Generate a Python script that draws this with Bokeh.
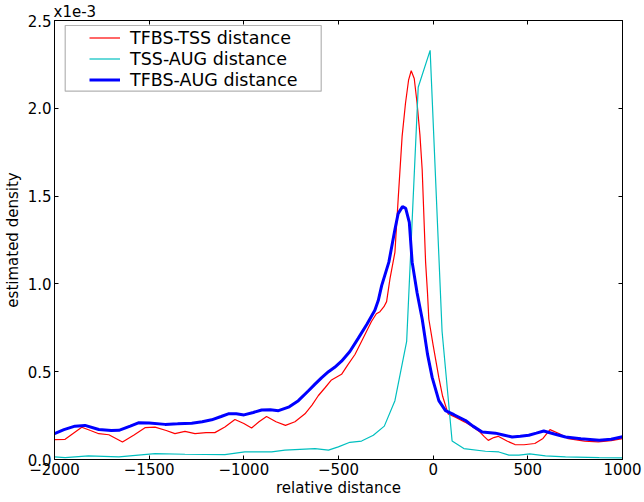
from bokeh.plotting import figure
from bokeh.models import (Legend, LegendItem, BoxAnnotation, FixedTicker,
                          PrintfTickFormatter, LinearAxis, Range1d, CustomLabelingPolicy)
from bokeh.embed import file_html
from bokeh.resources import INLINE

# ---- data (density values in units of 1e-3) ----
tfbs_tss_x = [-2000, -1944, -1900, -1856, -1810, -1766, -1713, -1641, -1580, -1522,
              -1469, -1410, -1364, -1311, -1258, -1200, -1153, -1100, -1047, -1000,
              -959, -920, -880, -830, -780, -730, -677, -640, -607, -570,
              -537, -484, -450, -413, -370, -326, -300, -281, -260, -246,
              -228, -202, -185, -164, -146, -130, -116, -100, -85, -70,
              -58, -40, -30, -23, 0, 30, 50, 79, 120, 168,
              210, 247, 270, 291, 320, 343, 390, 432, 480, 537,
              580, 617, 670, 713, 800, 872, 940, 1000]
tfbs_tss_y = [0.113, 0.115, 0.150, 0.184, 0.165, 0.147, 0.141, 0.100, 0.140, 0.181,
              0.184, 0.165, 0.147, 0.160, 0.147, 0.153, 0.153, 0.185, 0.228, 0.205,
              0.179, 0.215, 0.245, 0.215, 0.194, 0.215, 0.260, 0.310, 0.363, 0.410,
              0.453, 0.485, 0.540, 0.598, 0.690, 0.786, 0.830, 0.842, 0.870, 0.899,
              1.030, 1.180, 1.480, 1.840, 2.030, 2.160, 2.214, 2.170, 2.030, 1.850,
              1.650, 1.124, 0.950, 0.800, 0.650, 0.466, 0.360, 0.260, 0.240, 0.213,
              0.185, 0.156, 0.130, 0.109, 0.125, 0.132, 0.105, 0.085, 0.084, 0.091,
              0.120, 0.170, 0.145, 0.119, 0.105, 0.100, 0.108, 0.119]

tss_aug_x = [-2000, -1944, -1821, -1660, -1469, -1311, -1100, -995, -853, -783, -624,
             -553, -501, -440, -378, -316, -258, -202, -140, -79, -16, 47, 100, 162,
             276, 347, 400, 453, 510, 593, 699, 877, 1000]
tss_aug_y = [0.015, 0.011, 0.021, 0.015, 0.034, 0.030, 0.028, 0.043, 0.043, 0.053, 0.062,
             0.053, 0.072, 0.098, 0.105, 0.138, 0.190, 0.335, 0.673, 2.120, 2.330, 0.730,
             0.105, 0.062, 0.047, 0.043, 0.025, 0.025, 0.032, 0.021, 0.015, 0.011, 0.009]

tfbs_aug_x = [-2000, -1950, -1892, -1839, -1766, -1700, -1660, -1600, -1557, -1500, -1416,
              -1350, -1275, -1220, -1170, -1120, -1082, -1040, -999, -950, -906, -860,
              -817, -760, -712, -660, -624, -590, -553, -520, -484, -440, -396, -350,
              -308, -290, -272, -234, -202, -185, -162, -145, -126, -111, -85, -58, -30, -5,
              30, 65, 110, 171, 210, 259, 329, 370, 417, 460, 505, 545, 584, 640, 699,
              780, 877, 940, 1000]
tfbs_aug_y = [0.147, 0.170, 0.190, 0.194, 0.171, 0.165, 0.166, 0.190, 0.209, 0.208, 0.200,
              0.203, 0.207, 0.215, 0.226, 0.245, 0.260, 0.260, 0.254, 0.268, 0.282, 0.283,
              0.278, 0.300, 0.335, 0.390, 0.429, 0.465, 0.500, 0.525, 0.560, 0.615, 0.690, 0.770,
              0.850, 0.905, 0.990, 1.124, 1.310, 1.400, 1.440, 1.430, 1.350, 1.124, 0.950, 0.800, 0.600, 0.466,
              0.335, 0.278, 0.255, 0.222, 0.190, 0.156, 0.150, 0.140, 0.128, 0.132, 0.138, 0.150,
              0.162, 0.145, 0.128, 0.118, 0.109, 0.115, 0.130]

x_ticks = [-2000, -1500, -1000, -500, 0, 500, 1000]
y_ticks = [0.0, 0.5, 1.0, 1.5, 2.0, 2.5]
labels = ["TFBS-TSS distance", "TSS-AUG distance", "TFBS-AUG distance"]
colors = ["#ff0000", "#00bfbf", "#0000ff"]
offset_text = "x1e-3"

FONT = "DejaVu Sans"
TICK_FS = "15px"

p = figure(frame_width=568, frame_height=439,
           x_range=Range1d(x_ticks[0], x_ticks[-1]), y_range=Range1d(y_ticks[0], y_ticks[-1]),
           output_backend="svg", toolbar_location=None,
           min_border_left=48, min_border_right=20, min_border_top=16, min_border_bottom=40)
p.grid.visible = False
p.outline_line_color = "black"
p.outline_line_width = 1
p.background_fill_color = "white"
p.border_fill_color = "white"

# offset text for the y axis, shown as a left-aligned title
p.title.text = offset_text
p.title.align = "left"
p.title.offset = -1
p.title.standoff = 0
p.title.text_font = FONT
p.title.text_font_size = TICK_FS
p.title.text_font_style = "normal"
p.title.text_color = "black"

r1 = p.line(tfbs_tss_x, tfbs_tss_y, line_color=colors[0], line_width=1.2)
r2 = p.line(tss_aug_x, tss_aug_y, line_color=colors[1], line_width=1.2)
r3 = p.line(tfbs_aug_x, tfbs_aug_y, line_color=colors[2], line_width=3)


def style_axis(ax, show_labels=True):
    ax.major_tick_in = 4
    ax.major_tick_out = 0
    ax.minor_tick_line_color = None
    ax.axis_line_color = "black"
    ax.major_tick_line_color = "black"
    ax.major_label_text_font = FONT
    ax.major_label_text_color = "black"
    if show_labels:
        ax.major_label_text_font_size = TICK_FS
        ax.major_label_standoff = 3
    else:
        ax.major_label_text_font_size = "0px"
        ax.major_label_standoff = 0
        ax.major_label_policy = CustomLabelingPolicy(code="return new Set()")


xax = p.xaxis[0]
xax.ticker = FixedTicker(ticks=x_ticks)
xax.axis_label = "relative distance"
xax.axis_label_text_font = FONT
xax.axis_label_text_font_size = TICK_FS
xax.axis_label_text_font_style = "normal"
xax.axis_label_text_color = "black"
xax.axis_label_standoff = 1
style_axis(xax)

yax = p.yaxis[0]
yax.ticker = FixedTicker(ticks=y_ticks)
yax.formatter = PrintfTickFormatter(format="%.1f")
yax.axis_label = "estimated density"
yax.axis_label_text_font = FONT
yax.axis_label_text_font_size = TICK_FS
yax.axis_label_text_font_style = "normal"
yax.axis_label_text_color = "black"
yax.axis_label_standoff = 3
style_axis(yax)

top_ax = LinearAxis(ticker=FixedTicker(ticks=x_ticks))
style_axis(top_ax, show_labels=False)
p.add_layout(top_ax, "above")
right_ax = LinearAxis(ticker=FixedTicker(ticks=y_ticks))
style_axis(right_ax, show_labels=False)
p.add_layout(right_ax, "right")

# legend frame (screen units relative to the plot frame)
p.add_layout(BoxAnnotation(left=10.7, right=266.7, top=434, bottom=368.3,
                           left_units="screen", right_units="screen",
                           top_units="screen", bottom_units="screen",
                           fill_color="white", fill_alpha=1.0,
                           line_color="black", line_width=1.2, level="overlay"))

legend = Legend(items=[LegendItem(label=l, renderers=[r]) for l, r in zip(labels, [r1, r2, r3])],
                location=(35, 369), padding=0, margin=0, spacing=0,
                glyph_width=31, glyph_height=21, label_height=21, label_standoff=10,
                label_text_font=FONT, label_text_font_size="17.5px", label_text_color="black",
                border_line_color=None, background_fill_alpha=0.0)
p.add_layout(legend)

open("out.html", "w").write(file_html(p, INLINE))
